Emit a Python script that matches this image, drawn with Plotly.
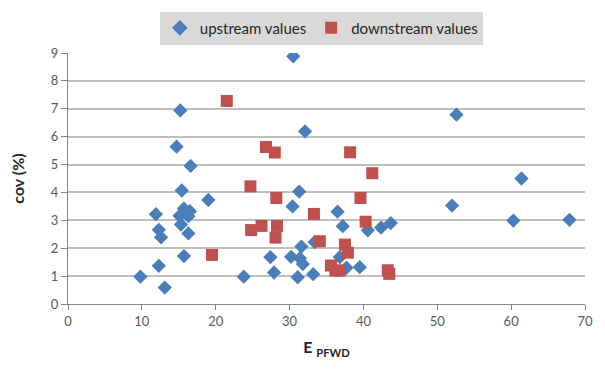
import plotly.graph_objects as go

up_x = [9.8, 11.9, 12.3, 12.6, 12.3, 13.1, 14.7, 15.2, 15.1, 15.3, 15.4, 15.7, 15.7, 16.3, 16.5,
        16.3, 16.6, 19.0, 23.8, 27.4, 27.9, 30.2, 30.4, 30.5, 31.3, 32.1, 31.6, 31.4, 31.8, 31.1,
        33.2, 33.4, 36.5, 37.2, 36.8, 37.7, 39.5, 40.6, 42.4, 43.7, 52.0, 52.6, 60.3, 61.4, 67.9]
up_y = [0.98, 3.22, 2.66, 2.39, 1.37, 0.59, 5.64, 6.94, 3.16, 2.85, 4.07, 3.42, 1.72, 3.15, 3.33,
        2.53, 4.95, 3.73, 0.98, 1.68, 1.13, 1.69, 3.50, 8.88, 4.03, 6.19, 2.06, 1.64, 1.43, 0.96,
        1.07, 2.22, 3.31, 2.79, 1.68, 1.30, 1.32, 2.64, 2.74, 2.90, 3.53, 6.79, 2.99, 4.50, 3.02]

down_x = [19.5, 21.5, 24.7, 24.8, 26.2, 26.8, 28.0, 28.2, 28.3, 28.1, 33.3, 34.1, 35.6, 36.2,
          36.8, 37.5, 37.9, 38.2, 39.6, 40.3, 41.2, 43.3, 43.5]
down_y = [1.76, 7.28, 4.22, 2.65, 2.80, 5.63, 5.43, 3.80, 2.80, 2.38, 3.23, 2.25, 1.38, 1.20,
          1.20, 2.13, 1.84, 5.44, 3.80, 2.95, 4.69, 1.21, 1.08]

x_ticks = [0, 10, 20, 30, 40, 50, 60, 70]
y_ticks = [0, 1, 2, 3, 4, 5, 6, 7, 8, 9]

FONT = "Lato, 'Open Sans', sans-serif"

fig = go.Figure()
fig.add_trace(go.Scatter(
    x=up_x, y=up_y, mode="markers", name="upstream values",
    marker=dict(symbol="diamond", size=11, color="#4A7EBB", line=dict(width=0)),
))
fig.add_trace(go.Scatter(
    x=down_x, y=down_y, mode="markers", name="downstream values",
    marker=dict(symbol="square", size=12, color="#C0504D", line=dict(width=0)),
))

fig.update_layout(
    width=605, height=376,
    margin=dict(l=68, r=12, t=48, b=72),
    paper_bgcolor="white", plot_bgcolor="white",
    font=dict(family=FONT, color="#595959", size=13),
    showlegend=True,
    legend=dict(
        orientation="h", x=0.49, xanchor="center", y=1.165, yanchor="top",
        bgcolor="#D9D9D9", font=dict(size=15, color="#262626", family=FONT),
        itemsizing="constant", itemwidth=30, tracegroupgap=0,
    ),
    xaxis=dict(
        range=[0, 70], tickvals=x_ticks, showgrid=False, zeroline=False,
        showline=True, linecolor="#868686", linewidth=1,
        ticks="outside", ticklen=5, tickcolor="#868686",
        tickfont=dict(size=13, color="#595959"),
        title=dict(text="<b>E <sub>PFWD</sub></b>", font=dict(size=16, color="#262626"), standoff=14),
    ),
    yaxis=dict(
        range=[0, 9], tickvals=y_ticks, showgrid=True, gridcolor="#BFBFBF", gridwidth=1.5,
        zeroline=False, showline=True, linecolor="#868686", linewidth=1,
        ticks="outside", ticklen=6, tickcolor="#868686",
        tickfont=dict(size=13, color="#595959"),
        title=dict(text="<b>cov (%)</b>", font=dict(size=16, color="#262626"), standoff=22),
    ),
)

fig.write_html("out.html")
